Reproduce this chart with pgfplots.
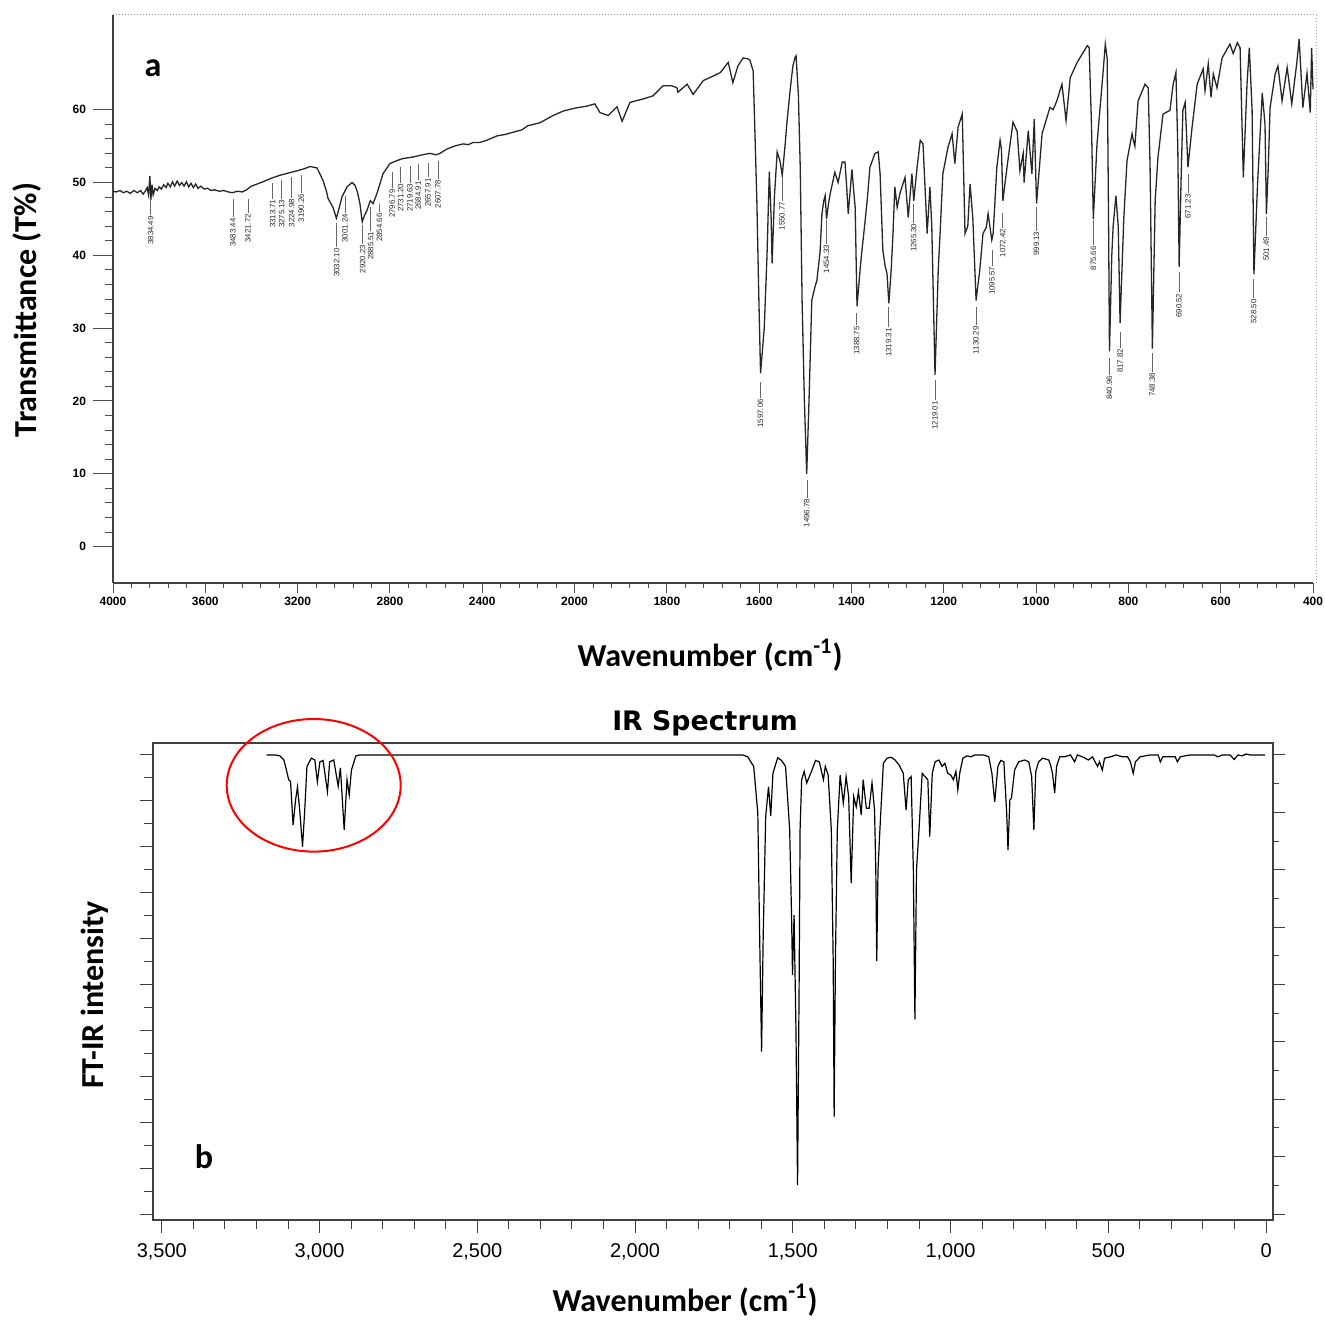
\documentclass[border=0pt]{standalone}
\usepackage{fontspec}
\setmainfont{Carlito}
\newfontfamily\lib{Liberation Sans}
\newfontfamily\dvs{DejaVu Sans}
\usepackage{pgfplots}
\usepackage{pgfplotstable}
\pgfplotsset{compat=1.18}

\pgfplotstableread{
w T
4000 48.8
3985 48.7
3970 48.9
3955 48.6
3940 48.8
3925 48.5
3910 48.9
3895 48.6
3880 48.9
3870 48.4
3860 48.8
3852 49.3
3846 48.3
3840 50.9
3836 47.6
3831 49.7
3826 48.3
3818 49.2
3808 48.9
3800 49.4
3790 49.1
3780 49.7
3770 49.3
3762 49.9
3752 49.4
3742 50.1
3733 49.5
3722 50.2
3712 49.6
3702 50.0
3692 49.5
3682 50.1
3672 49.4
3662 49.9
3652 49.3
3642 49.8
3632 49.2
3620 49.5
3605 49.1
3590 49.2
3575 48.9
3560 49.0
3540 48.8
3520 48.9
3500 48.7
3483 48.6
3460 48.8
3440 48.7
3421 49.0
3400 49.5
3375 49.8
3350 50.1
3313 50.6
3276 51.0
3240 51.3
3203 51.6
3170 51.9
3146 52.2
3116 52.0
3090 50.3
3075 48.8
3068 47.8
3047 46.6
3032 45.1
3020 46.5
3008 48.0
2986 49.4
2964 50.0
2951 49.6
2940 48.6
2930 47.1
2920 44.6
2910 45.5
2899 46.2
2885 47.5
2873 47.1
2862 48.0
2852 48.9
2830 51.2
2800 52.6
2770 53.0
2743 53.3
2720 53.4
2700 53.5
2660 53.8
2626 54.0
2600 53.8
2583 54.0
2553 54.6
2520 55.0
2483 55.3
2460 55.2
2440 55.5
2410 55.5
2380 55.8
2336 56.4
2300 56.6
2267 56.9
2230 57.2
2202 57.8
2150 58.2
2093 59.2
2050 59.8
2000 60.2
1973 60.5
1956 60.8
1945 59.6
1927 59.2
1908 60.4
1897 58.4
1880 61.0
1850 61.5
1830 61.9
1808 63.3
1790 63.3
1778 63.0
1776 62.4
1756 63.5
1743 62.1
1721 64.0
1700 64.6
1684 65.1
1667 66.5
1657 63.7
1646 66.0
1635 67.1
1625 67.0
1620 66.8
1613 65.3
1605 47.5
1601 35.0
1597 23.8
1589 30.0
1583 40.0
1578 51.5
1574 45.0
1572 38.9
1567 48.0
1561 54.2
1555 53.0
1550 51.0
1544 55.0
1540 58.1
1533 62.6
1527 66.0
1522 67.2
1520 67.4
1515 62.0
1511 52.1
1507 33.8
1502 20.0
1497 10.0
1492 20.0
1486 33.8
1479 35.7
1475 36.5
1468 40.5
1464 45.7
1460 47.5
1457 48.2
1454 45.0
1450 47.0
1446 48.5
1436 51.4
1429 50.0
1420 52.8
1414 52.8
1410 49.0
1407 45.7
1399 51.8
1394 48.0
1392 46.6
1388 33.0
1380 39.0
1370 45.0
1366 47.5
1360 52.1
1349 54.0
1342 54.2
1338 51.2
1332 40.7
1327 38.5
1323 37.5
1319 33.4
1314 38.0
1310 43.0
1306 49.4
1301 46.6
1295 48.5
1284 50.7
1277 45.2
1269 51.2
1265 47.5
1258 52.0
1251 55.8
1245 55.3
1236 43.0
1230 49.4
1226 44.0
1219 23.6
1212 38.0
1208 43.0
1202 51.2
1191 54.8
1182 56.7
1176 52.6
1169 57.6
1160 59.4
1154 43.0
1148 44.0
1143 49.8
1137 45.0
1130 33.8
1122 38.0
1115 43.0
1108 43.8
1104 45.7
1096 42.1
1093 43.0
1085 52.1
1078 55.8
1075 54.5
1072 47.5
1063 52.1
1050 58.3
1041 57.0
1035 51.6
1028 54.0
1026 50.0
1017 57.1
1009 51.2
1004 58.7
999 47.1
987 56.7
970 60.3
963 60.0
955 61.2
944 63.5
935 58.5
926 64.4
911 66.5
889 68.8
885 68.5
880 58.0
876 45.0
868 55.3
857 63.5
850 69.0
846 67.0
843 45.0
841 26.8
836 40.0
833 44.0
827 48.2
822 44.0
818 30.7
810 45.0
803 53.0
792 56.7
790 56.0
786 55.0
779 61.2
764 63.5
757 63.0
753 52.1
748 27.2
742 47.5
736 53.4
725 59.4
710 59.9
703 63.5
697 65.1
693 55.0
690 38.4
686 50.0
682 59.9
677 61.0
671 52.1
662 57.6
651 63.5
638 65.6
634 62.6
627 66.3
621 61.7
616 64.9
608 63.0
597 67.1
580 69.0
573 67.7
564 69.2
558 68.5
551 50.7
543 63.5
538 68.5
532 60.0
528 37.4
520 50.0
510 62.3
504 58.0
501 45.7
497 52.0
493 60.3
482 64.9
476 66.0
467 61.2
456 65.8
446 60.8
435 66.5
430 69.7
422 60.3
413 65.0
406 59.6
403 68.5
400 62.8
}\specA

% wx: where the printed label stands; yt: top of the label; yl: top of its leader line
\pgfplotstableread{
wx yt yl lab
3837 45.5 47.8 3834.49
3480 45.2 47.8 3483.44
3415 45.8 47.7 3421.72
3308 47.8 50.0 3313.71
3269 47.8 50.3 3275.13
3226 47.9 50.7 3224.98
3185 48.6 51.0 3190.26
3031 41.1 44.4 3032.10
2995 45.8 48.2 3001.24
2918 41.6 44.1 2920.23
2883 43.4 46.6 2885.51
2845 45.9 47.1 2854.66
2790 49.2 51.4 2796.79
2753 50.0 52.1 2731.20
2713 50.0 52.3 2719.63
2678 50.3 52.6 2684.91
2635 50.7 52.7 2657.91
2592 50.5 53.0 2607.78
1597.06 20.4 22.6 1597.06
1550.77 47.5 50.7 1550.77
1496.78 6.7 9.2 1496.78
1454.33 41.6 44.8 1454.33
1388.75 30.4 32.1 1388.75
1319.31 30.1 32.9 1319.31
1265.30 44.5 47.1 1265.30
1219.01 20.1 22.9 1219.01
1130.29 30.4 32.9 1130.29
1095.57 38.6 40.7 1095.57
1072.42 43.8 45.8 1072.42
999.13 43.4 46.6 999.13
875.66 41.4 44.8 875.66
840.96 23.6 25.9 840.96
817.82 27.3 29.5 817.82
748.38 24.0 26.6 748.38
690.52 34.9 37.7 690.52
671.23 48.5 51.2 671.23
528.50 34.1 36.8 528.50
501.49 42.7 45.2 501.49
}\peaksA

\pgfplotstableread{
w v
3168 100.0
3140 100.0
3126 99.8
3113 98.9
3105 96.7
3098 94.6
3092 94.2
3084 84.7
3076 90.2
3070 93.0
3063 88.0
3054 80.0
3047 88.0
3040 97.5
3026 99.3
3015 98.9
3007 94.2
2999 98.5
2989 98.8
2975 92.0
2968 98.5
2955 98.9
2941 93.2
2934 97.2
2922 83.7
2913 94.6
2906 91.3
2899 96.7
2885 99.8
2873 100.0
1720 100.0
1660 100.0
1643 99.6
1624 97.5
1611 87.4
1605 60.0
1599 35.4
1594 60.0
1586 86.6
1577 93.1
1570 86.7
1563 96.0
1548 99.4
1536 98.8
1523 97.5
1510 83.7
1504 65.0
1501 52.1
1496 65.1
1490 40.0
1485 6.3
1480 50.0
1477 83.7
1472 94.6
1464 96.4
1456 93.9
1441 96.4
1428 98.8
1416 98.5
1403 94.6
1397 97.5
1388 95.6
1378 83.7
1372 55.0
1369 21.2
1365 55.0
1359 83.7
1350 95.6
1340 89.5
1331 95.3
1323 90.9
1315 72.1
1307 90.9
1299 88.7
1292 92.0
1283 86.9
1277 94.6
1267 88.4
1258 88.4
1249 93.9
1241 88.0
1237 75.0
1234 55.1
1230 75.0
1224 83.7
1213 98.2
1201 99.3
1188 99.5
1176 98.9
1163 97.8
1150 96.0
1141 88.0
1134 94.6
1125 95.3
1118 75.0
1113 42.4
1108 75.0
1100 83.7
1090 96.0
1081 95.3
1072 94.6
1066 82.2
1058 96.0
1049 98.5
1037 98.9
1027 97.5
1018 98.2
1009 96.0
999 95.6
991 94.6
983 96.4
977 92.4
971 96.0
961 99.3
948 99.8
936 99.6
923 100.0
895 100.0
879 99.6
869 96.0
860 89.8
850 97.5
841 98.8
831 98.5
822 87.1
818 79.3
812 90.2
807 90.6
797 96.7
784 98.5
765 98.9
752 98.5
743 95.3
736 83.7
730 96.4
721 98.5
708 99.3
689 98.9
683 97.8
677 96.0
670 91.7
664 97.5
654 99.6
639 99.6
620 100.0
607 98.5
598 100.0
582 99.6
563 98.9
550 99.6
542 98.5
534 97.5
528 98.5
519 96.7
512 99.3
493 99.6
475 100.0
456 99.6
439 99.6
430 98.5
421 96.0
414 98.5
399 99.6
367 100.0
342 100.0
335 98.5
327 99.6
304 99.6
288 99.6
281 98.5
272 99.6
241 100.0
203 100.0
165 100.0
152 99.6
139 100.0
114 100.0
101 99.0
89 100.0
76 99.8
63 100.2
51 100.0
3 100.0
}\specB

\begin{document}
\begin{tikzpicture}[x=1pt,y=1pt]
\useasboundingbox (0,0) rectangle (662.5,-660.5);

% ---------- panel a : y axis ----------
\begin{axis}[
  at={(56.5pt,-291.5pt)}, anchor=south west,
  scale only axis, width=600pt, height=284pt,
  xmin=0, xmax=13, ymin=-5, ymax=73,
  hide x axis, axis y line*=left,
  axis line style={black!75, line width=0.6pt},
  ytick={0,10,...,60}, yticklabels={0,10,20,30,40,50,60},
  minor y tick num=4,
  tick align=outside, major tick length=10pt, minor tick length=4pt,
  every tick/.style={black!70, line width=0.5pt},
  yticklabel style={font=\lib\bfseries\fontsize{6}{7}\selectfont},
]
\end{axis}

% ---------- panel a : x axis and data ----------
\begin{axis}[
  at={(56.5pt,-291.5pt)}, anchor=south west,
  scale only axis, width=600pt, height=284pt,
  xmin=0, xmax=13, ymin=-5, ymax=73,
  hide y axis, axis x line*=bottom,
  axis line style={black!75, line width=0.6pt},
  xtick={0,...,13},
  xticklabels={4000,3600,3200,2800,2400,2000,1800,1600,1400,1200,1000,800,600,400},
  minor x tick num=4,
  tick align=outside, major tick length=5pt, minor tick length=2.5pt,
  every tick/.style={black!70, line width=0.5pt},
  xticklabel style={font=\lib\bfseries\fontsize{6}{7}\selectfont, yshift=1.5pt},
  clip=false,
]
\addplot[black!85, line width=0.65pt, sharp plot]
  table[x expr={\thisrow{w}>=2000 ? (4000-\thisrow{w})/400 : 5+(2000-\thisrow{w})/200}, y=T] {\specA};
\addplot[only marks, mark=*, mark size=0pt, mark options={draw=none, fill=none},
  error bars/.cd, y dir=plus, y explicit, error mark=none,
  error bar style={black!60, line width=0.3pt}]
  table[x expr={\thisrow{wx}>=2000 ? (4000-\thisrow{wx})/400 : 5+(2000-\thisrow{wx})/200}, y=yt, y error expr={\thisrow{yl}-\thisrow{yt}}] {\peaksA};
\addplot[only marks, mark=*, mark size=0pt, mark options={draw=none, fill=none},
  nodes near coords, point meta=explicit symbolic,
  every node near coord/.append style={rotate=90, anchor=east, inner sep=0.4pt,
    font=\lib\fontsize{3.9}{4.5}\selectfont, text=black!85}]
  table[x expr={\thisrow{wx}>=2000 ? (4000-\thisrow{wx})/400 : 5+(2000-\thisrow{wx})/200}, y=yt, meta=lab] {\peaksA};
\end{axis}
\draw[densely dotted, black!45, line width=0.5pt] (56.5,-7.5) -- (658,-7.5);
\draw[densely dotted, black!35, line width=0.5pt] (658,-7.5) -- (658,-291.5);

\node[font=\bfseries\fontsize{16}{19}\selectfont, rotate=90] at (13.5,-155) {Transmittance (T\%)};
\node[font=\bfseries\fontsize{16}{19}\selectfont] at (355,-327.5) {Wavenumber (cm\textsuperscript{-1})};
\node[font=\bfseries\fontsize{17}{20}\selectfont] at (76.5,-34) {a};

% ---------- panel b ----------
\begin{axis}[
  at={(76.5pt,-610pt)}, anchor=south west,
  scale only axis, width=560pt, height=238.5pt,
  xmin=-22, xmax=3528, x dir=reverse,
  ymin=-1.3, ymax=102.6,
  xtick={0,500,...,3500},
  xticklabels={0,500,{1,000},{1,500},{2,000},{2,500},{3,000},{3,500}},
  minor x tick num=4,
  ytick={0,10,...,100}, yticklabels={}, minor y tick num=1,
  tick pos=left, tick align=outside,
  major tick length=6.5pt, minor tick length=4.5pt,
  axis line style={black!75, line width=0.6pt},
  every tick/.style={black!75, line width=0.5pt},
  xticklabel style={font=\lib\fontsize{10}{12}\selectfont, yshift=-1.5pt},
]
\addplot[black, line width=0.6pt, sharp plot] table[x=w, y=v] {\specB};
\end{axis}
\begin{axis}[
  at={(76.5pt,-610pt)}, anchor=south west,
  scale only axis, width=560pt, height=238.5pt,
  xmin=-22, xmax=3528, x dir=reverse,
  ymin=-1.3, ymax=102.6,
  hide x axis, axis y line*=right,
  axis line style={black!75, line width=0.6pt},
  ytick={0,12.5,...,100}, yticklabels={}, minor y tick num=1,
  tick align=outside, major tick length=6pt, minor tick length=3pt,
  every tick/.style={black!75, line width=0.5pt},
]
\end{axis}

\draw[red, line width=1pt] (156.85,-392.65) ellipse [x radius=43.5pt, y radius=33.15pt];
\node[font=\dvs\bfseries\fontsize{13.4}{16}\selectfont] at (352.5,-361.5) {IR Spectrum};
\node[font=\bfseries\fontsize{16}{19}\selectfont, rotate=90] at (47.5,-497.5) {FT-IR intensity};
\node[font=\bfseries\fontsize{17}{20}\selectfont] at (102,-578.5) {b};
\node[font=\bfseries\fontsize{16}{19}\selectfont] at (342.5,-650) {Wavenumber (cm\textsuperscript{-1})};
\end{tikzpicture}
\end{document}
